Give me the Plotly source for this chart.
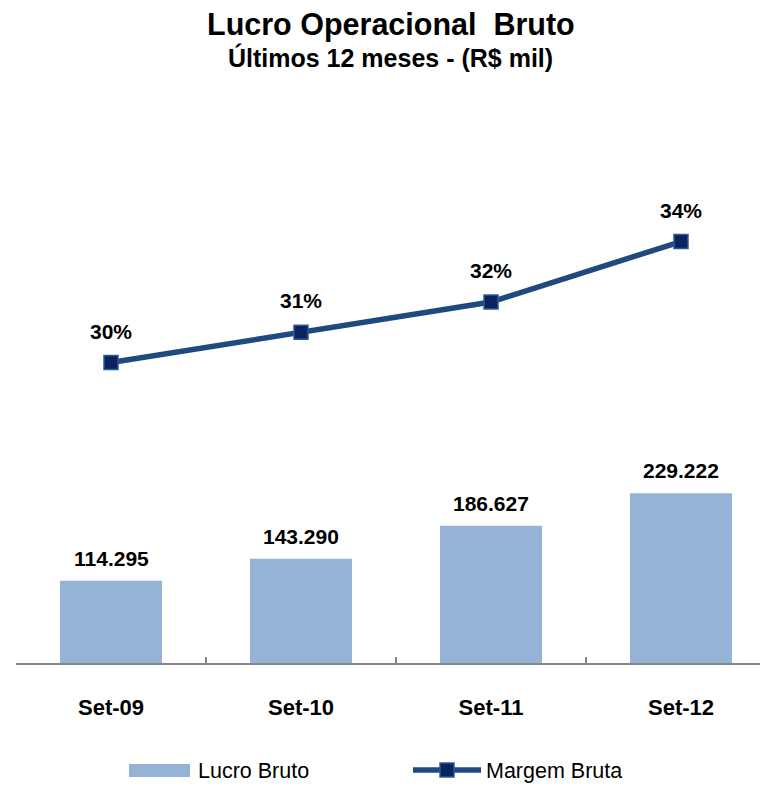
import plotly.graph_objects as go

categories = ["Set-09", "Set-10", "Set-11", "Set-12"]
lucro_bruto = [114.295, 143.290, 186.627, 229.222]
lucro_labels = ["114.295", "143.290", "186.627", "229.222"]
margem_bruta = [30, 31, 32, 34]
margem_labels = ["30%", "31%", "32%", "34%"]

BAR_COLOR = "#95B3D7"
LINE_COLOR = "#1F4A80"
MARKER_FILL = "#0A2260"
FONT = "Liberation Sans, Arial, sans-serif"

W, H = 760, 786
L, R, T, B = 16, 0, 100, 123
PW, PH = W - L - R, H - T - B

def px_x(x):
    return (x - L) / PW

def px_y(y):
    return (H - B - y) / PH

fig = go.Figure()
fig.add_trace(go.Bar(
    x=categories, y=lucro_bruto, marker=dict(color=BAR_COLOR, line=dict(width=0)),
    width=0.537, name="Lucro Bruto", yaxis="y", hoverinfo="skip"))
fig.add_trace(go.Scatter(
    x=categories, y=margem_bruta, mode="lines+markers", name="Margem Bruta",
    line=dict(color=LINE_COLOR, width=5.5),
    marker=dict(symbol="square", size=14, color=MARKER_FILL,
                line=dict(color="#2F5A96", width=1.5)),
    yaxis="y2", cliponaxis=False, hoverinfo="skip"))

annotations = []
for c, v, t in zip(categories, lucro_bruto, lucro_labels):
    annotations.append(dict(x=c, y=v, xref="x", yref="y", text="<b>%s</b>" % t,
                            showarrow=False, yanchor="bottom", yshift=9,
                            font=dict(family=FONT, size=21, color="#000000")))
for c, v, t in zip(categories, margem_bruta, margem_labels):
    annotations.append(dict(x=c, y=v, xref="x", yref="y2", text="<b>%s</b>" % t,
                            showarrow=False, yanchor="bottom", yshift=18,
                            font=dict(family=FONT, size=21, color="#000000")))

# Titles
annotations.append(dict(x=px_x(391), y=px_y(24), xref="paper", yref="paper",
                        text="<b>Lucro Operacional  Bruto</b>", showarrow=False,
                        yanchor="middle", xanchor="center",
                        font=dict(family=FONT, size=30.5, color="#000000")))
annotations.append(dict(x=px_x(390), y=px_y(58), xref="paper", yref="paper",
                        text="<b>Últimos 12 meses - (R$ mil)</b>", showarrow=False,
                        yanchor="middle", xanchor="center",
                        font=dict(family=FONT, size=25, color="#000000")))

# Manual legend
annotations.append(dict(x=px_x(196), y=px_y(771), xref="paper", yref="paper",
                        text="Lucro Bruto", showarrow=False, xanchor="left",
                        yanchor="middle", font=dict(family=FONT, size=21.5, color="#000000")))
annotations.append(dict(x=px_x(484), y=px_y(771), xref="paper", yref="paper",
                        text="Margem Bruta", showarrow=False, xanchor="left",
                        yanchor="middle", font=dict(family=FONT, size=21.5, color="#000000")))

shapes = [
    dict(type="rect", xref="paper", yref="paper", x0=px_x(129), x1=px_x(190),
         y0=px_y(777), y1=px_y(764), fillcolor=BAR_COLOR, line=dict(width=0)),
    dict(type="line", xref="paper", yref="paper", x0=px_x(413), x1=px_x(481),
         y0=px_y(770), y1=px_y(770), line=dict(color=LINE_COLOR, width=5.5)),
    dict(type="rect", xref="paper", yref="paper", x0=px_x(440), x1=px_x(454),
         y0=px_y(777), y1=px_y(763), fillcolor=MARKER_FILL,
         line=dict(color="#2F5A96", width=1.5)),
]

fig.update_layout(
    width=W, height=H, margin=dict(l=L, r=R, t=T, b=B, pad=0),
    paper_bgcolor="white", plot_bgcolor="white", showlegend=False,
    font=dict(family=FONT, color="#000000"),
    xaxis=dict(type="category", range=[-0.5, -0.5 + PW / 190.0],
               showline=True, linecolor="#868686", linewidth=2,
               ticks="inside", tickson="boundaries", ticklen=6, tickwidth=2,
               tickcolor="#868686", showgrid=False, zeroline=False,
               tickfont=dict(family=FONT, size=22, color="#000000"),
               ticklabelstandoff=24,
               tickvals=categories, ticktext=["<b>%s</b>" % c for c in categories]),
    yaxis=dict(range=[6.05, 746.4], visible=False, showgrid=False, zeroline=False),
    yaxis2=dict(range=[20.066, 38.678], overlaying="y", visible=False,
                showgrid=False, zeroline=False),
    annotations=annotations, shapes=shapes,
)

fig.write_html("out.html", config={"displayModeBar": False, "staticPlot": True},
               post_script="document.body.style.margin='0';document.body.style.overflow='hidden';")
